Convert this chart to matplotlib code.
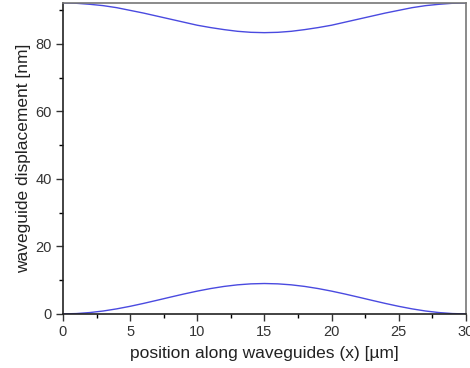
import matplotlib
matplotlib.use("Agg")
import matplotlib.pyplot as plt
import numpy as np
from matplotlib.ticker import MultipleLocator

plt.rcParams["font.family"] = ["Liberation Sans", "DejaVu Sans"]

# position along the guides, in micrometres
x_um = [0, 1, 2, 3, 4, 5, 6, 7, 8, 9, 10, 11, 12, 13, 14, 15,
        16, 17, 18, 19, 20, 21, 22, 23, 24, 25, 26, 27, 28, 29, 30]

# lower guide displacement [nm]
lower_nm = [0.0, 0.1, 0.4, 0.86, 1.49, 2.25, 3.11, 4.03, 4.97, 5.89, 6.75,
            7.51, 8.14, 8.61, 8.9, 9.0, 8.9, 8.61, 8.14, 7.51, 6.75, 5.89,
            4.97, 4.03, 3.11, 2.25, 1.49, 0.86, 0.4, 0.1, 0.0]

# upper guide displacement [nm]
upper_nm = [92.1, 92.0, 91.7, 91.3, 90.7, 89.9, 89.1, 88.2, 87.3, 86.4, 85.5,
            84.8, 84.2, 83.7, 83.4, 83.3, 83.4, 83.7, 84.2, 84.8, 85.5, 86.4,
            87.3, 88.2, 89.1, 89.9, 90.7, 91.3, 91.7, 92.0, 92.1]

fig = plt.figure(figsize=(4.70, 3.68), dpi=100)
ax = fig.add_axes([0.134, 0.147, 0.857, 0.845])

line_color = "#4a4ae0"
ax.plot(x_um, lower_nm, color=line_color, lw=1.0)
ax.plot(x_um, upper_nm, color=line_color, lw=1.0)

ax.set_xlim(0, 30)
ax.set_ylim(0, 92.1)
ax.xaxis.set_major_locator(MultipleLocator(5))
ax.xaxis.set_minor_locator(MultipleLocator(2.5))
ax.yaxis.set_major_locator(MultipleLocator(20))
ax.yaxis.set_minor_locator(MultipleLocator(10))
ax.tick_params(which="major", direction="out", length=5, width=1,
               labelsize=10.5, colors="#333333", pad=3)
ax.tick_params(which="minor", direction="out", length=3, width=1)

for side in ["left", "bottom"]:
    ax.spines[side].set_color("#222222")
    ax.spines[side].set_linewidth(1.2)
for side in ["top", "right"]:
    ax.spines[side].set_color("#777777")
    ax.spines[side].set_linewidth(1.2)

ax.set_xlabel("position along waveguides (x) [µm]", fontsize=12.5,
              color="#222222", labelpad=5)
ax.set_ylabel("waveguide displacement [nm]", fontsize=12.5,
              color="#222222", labelpad=3)

fig.savefig("out.png", dpi=100)
